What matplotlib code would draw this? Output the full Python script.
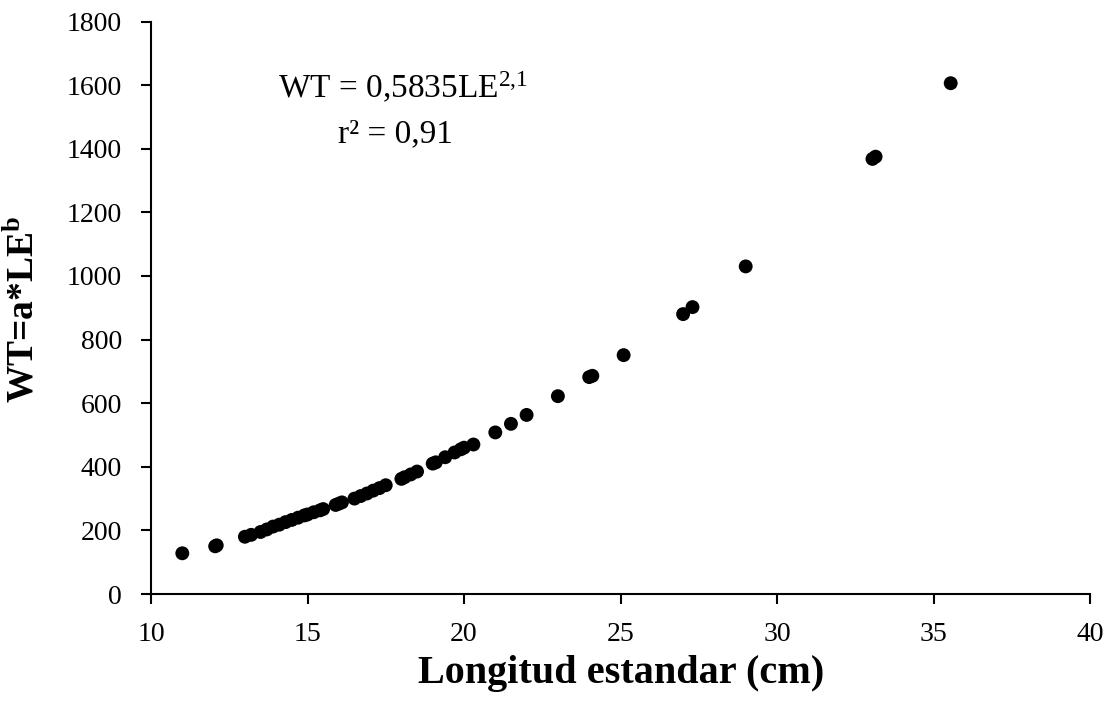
import matplotlib
matplotlib.use("Agg")
import matplotlib.pyplot as plt

le_cm = [11.0, 12.05, 12.1, 13.0, 13.2, 13.5, 13.7, 13.9, 14.1, 14.3, 14.5, 14.7, 14.9,
         15.0, 15.2, 15.4, 15.5, 15.9, 16.0, 16.1, 16.5, 16.7, 16.9, 17.1, 17.3, 17.5,
         18.0, 18.1, 18.3, 18.5, 19.0, 19.1, 19.4, 19.7, 19.9, 20.0, 20.3, 21.0, 21.5,
         22.0, 23.0, 24.0, 24.1, 25.1, 27.0, 27.3, 29.0, 33.05, 33.15, 35.55]
wt = [128, 150, 153, 180, 186, 195, 203, 212, 218, 226, 233, 240, 247,
      250, 257, 263, 267, 280, 284, 288, 300, 308, 316, 325, 333, 342,
      362, 367, 376, 385, 410, 414, 430, 445, 455, 460, 470, 508, 535,
      563, 622, 682, 686, 751, 880, 902, 1030, 1368, 1375, 1606]

x_ticks = [10, 15, 20, 25, 30, 35, 40]
y_ticks = [0, 200, 400, 600, 800, 1000, 1200, 1400, 1600, 1800]

plt.rcParams['font.family'] = ['Liberation Serif', 'DejaVu Serif']
plt.rcParams['mathtext.fontset'] = 'custom'
plt.rcParams['mathtext.rm'] = 'Liberation Serif'
plt.rcParams['mathtext.it'] = 'Liberation Serif'
plt.rcParams['mathtext.bf'] = 'Liberation Serif:bold'

fig = plt.figure(figsize=(11.09, 7.06), dpi=100)
ax = fig.add_axes([151/1109, 1 - 594/706, (1090 - 151)/1109, (594 - 21.5)/706])

ax.scatter(le_cm, wt, s=100, color='black', edgecolors='none', zorder=3)

ax.set_xlim(10, 40)
ax.set_ylim(0, 1800)
ax.set_xticks(x_ticks)
ax.set_yticks(y_ticks)
ax.tick_params(axis='both', direction='out', length=7, width=1.5, labelsize=20, colors='black')
ax.tick_params(axis='x', pad=13)
ax.tick_params(axis='y', pad=14)
for s in ['top', 'right']:
    ax.spines[s].set_visible(False)
for s in ['left', 'bottom']:
    ax.spines[s].set_linewidth(1.5)

ax.set_xlabel('Longitud estandar (cm)', fontsize=29, fontweight='bold', va='center')
ax.xaxis.set_label_coords(0.5005, -0.138)
ax.set_ylabel(r'WT=a*LE$^{\mathbf{b}}$', fontsize=27, fontweight='bold', va='center')
ax.yaxis.set_label_coords(-0.1352, 0.497)

ax.text(0.268, 0.884, r'WT = 0,5835LE$^{2{,}1}$', transform=ax.transAxes, fontsize=24,
        ha='center', va='center')
ax.text(0.26, 0.803, 'r² = 0,91', transform=ax.transAxes, fontsize=24,
        ha='center', va='center')

fig.savefig('out.png', dpi=100)
